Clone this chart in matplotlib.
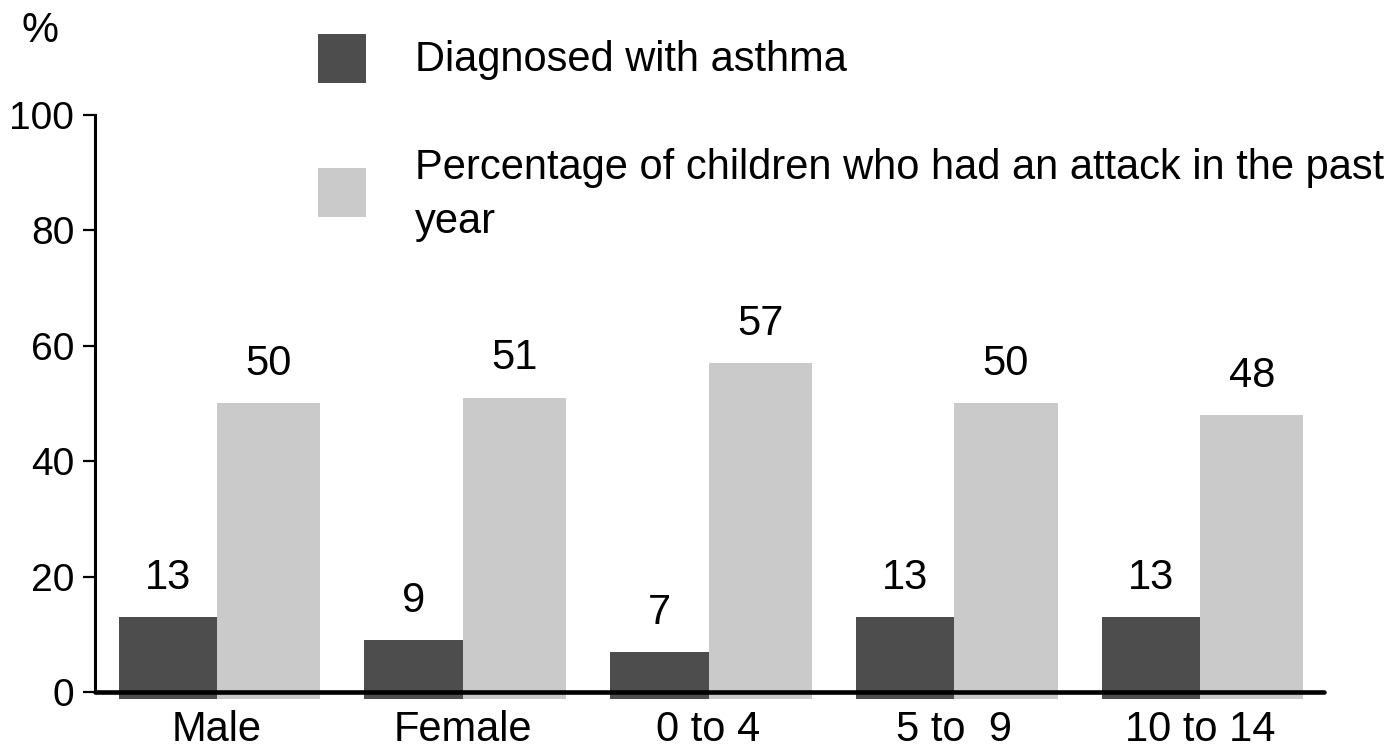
import numpy as np
import matplotlib
matplotlib.use("Agg")
import matplotlib.pyplot as plt
from matplotlib.patches import Rectangle

# chart data
categories = ["Male", "Female", "0 to 4", "5 to  9", "10 to 14"]
diagnosed = [13, 9, 7, 13, 13]
attack_past_year = [50, 51, 57, 50, 48]
yticks = [0, 20, 40, 60, 80, 100]

DARK = "#4d4d4d"
LIGHT = "#cacaca"
FS = 30
y_floor = -1.2  # bars run a little below the axis line in the original

plt.rcParams["font.family"] = ["Liberation Sans", "DejaVu Sans"]

fig = plt.figure(figsize=(13.93, 7.5), dpi=100)
ax = fig.add_axes([0.0682, 0.0675, 0.8823, 0.7798])

x = np.arange(len(categories))
w_dark, w_light = 0.40, 0.42
ax.bar(x - w_dark / 2, np.array(diagnosed) - y_floor, w_dark, bottom=y_floor,
       color=DARK, linewidth=0)
ax.bar(x + w_light / 2, np.array(attack_past_year) - y_floor, w_light, bottom=y_floor,
       color=LIGHT, linewidth=0)

for xi, v in zip(x, diagnosed):
    ax.annotate(str(v), (xi - w_dark / 2, v), xytext=(0, 14), textcoords="offset points",
                ha="center", va="bottom", fontsize=FS)
for xi, v in zip(x, attack_past_year):
    ax.annotate(str(v), (xi + w_light / 2, v), xytext=(0, 14), textcoords="offset points",
                ha="center", va="bottom", fontsize=FS)

ax.set_xlim(-0.496, 4.504)
ax.set_ylim(y_floor, 100)
ax.set_yticks(yticks)
ax.set_xticks(x)
ax.set_xticklabels(categories)

for s in ["top", "right"]:
    ax.spines[s].set_visible(False)
ax.spines["bottom"].set_position(("data", 0))
ax.spines["bottom"].set_linewidth(3.3)
ax.spines["bottom"].set_capstyle("round")
ax.spines["bottom"].set_zorder(3)
ax.spines["left"].set_bounds(0, 100)
ax.spines["left"].set_linewidth(2.2)

ax.tick_params(axis="y", length=9, width=1.6, pad=6, labelsize=28)
ax.tick_params(axis="x", length=0, pad=13, labelsize=FS)

# legend drawn by hand to match the original placement
fig.add_artist(Rectangle((318 / 1393, 1 - 83 / 750), 48 / 1393, 49 / 750,
                         transform=fig.transFigure, color=DARK, linewidth=0))
fig.add_artist(Rectangle((318 / 1393, 1 - 217 / 750), 48 / 1393, 49 / 750,
                         transform=fig.transFigure, color=LIGHT, linewidth=0))
fig.text(415 / 1393, 1 - 60 / 750, "Diagnosed with asthma", fontsize=FS, va="center")
fig.text(415 / 1393, 1 - 195 / 750,
         "Percentage of children who had an attack in the past\nyear",
         fontsize=FS, va="center", linespacing=1.45)
fig.text(40 / 1393, 1 - 31 / 750, "%", fontsize=FS, ha="center", va="center")

fig.savefig("out.png", dpi=100)
